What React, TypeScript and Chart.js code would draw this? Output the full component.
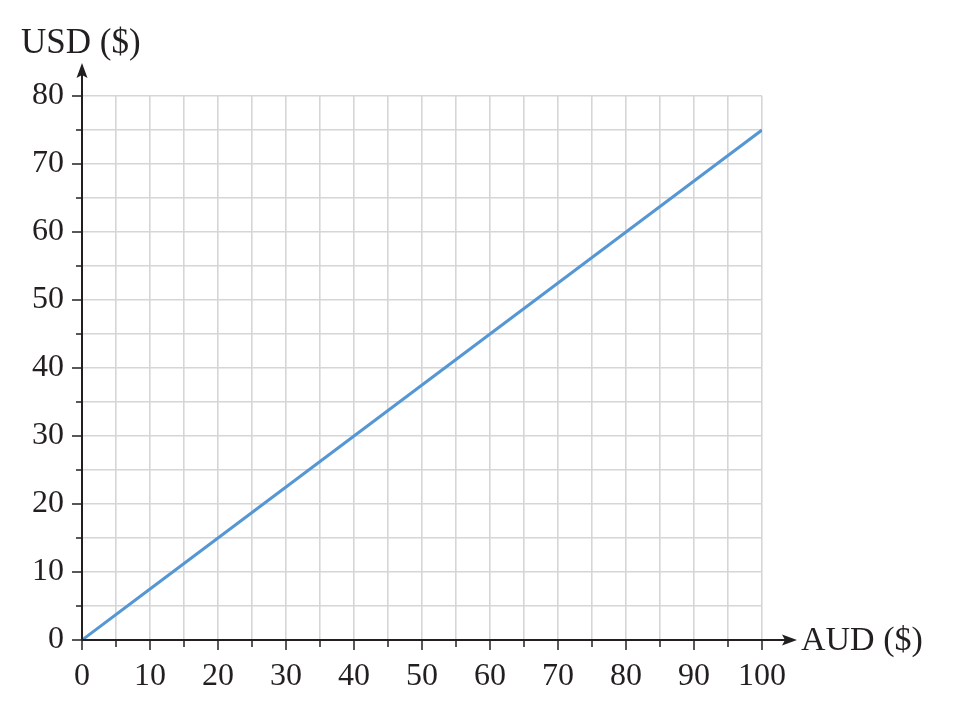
import React, { useEffect, useRef } from "react";
import { Chart, registerables } from "chart.js";

Chart.register(...registerables);

const audValues = [0, 10, 20, 30, 40, 50, 60, 70, 80, 90, 100];
const usdValues = [0, 7.5, 15, 22.5, 30, 37.5, 45, 52.5, 60, 67.5, 75];
const xTitle = "AUD ($)";
const yTitle = "USD ($)";
const xRange = [0, 100];
const yRange = [0, 80];
const gridStep = 5;
const labelStep = 10;

const INK = "#231f20";
const FONT = "'Liberation Serif', 'DejaVu Serif', serif";

const axesPlugin = {
  id: "axesArrows",
  afterDraw(chart: any) {
    const { ctx } = chart;
    const xs = chart.scales.x;
    const ys = chart.scales.y;
    const x0 = xs.getPixelForValue(xRange[0]);
    const x1 = xs.getPixelForValue(xRange[1]);
    const y0 = ys.getPixelForValue(yRange[0]);
    const y1 = ys.getPixelForValue(yRange[1]);
    ctx.save();
    ctx.strokeStyle = INK;
    ctx.fillStyle = INK;
    // ticks
    ctx.lineWidth = 1.5;
    for (const t of xs.ticks) {
      const px = xs.getPixelForValue(t.value);
      const len = t.value % labelStep === 0 ? 10 : 7;
      ctx.beginPath();
      ctx.moveTo(px, y0);
      ctx.lineTo(px, y0 + len);
      ctx.stroke();
    }
    for (const t of ys.ticks) {
      const py = ys.getPixelForValue(t.value);
      const len = t.value % labelStep === 0 ? 10 : 6;
      ctx.beginPath();
      ctx.moveTo(x0, py);
      ctx.lineTo(x0 - len, py);
      ctx.stroke();
    }
    // axis lines
    ctx.lineWidth = 2;
    ctx.beginPath();
    ctx.moveTo(x0, y0);
    ctx.lineTo(x1 + 24, y0);
    ctx.stroke();
    ctx.beginPath();
    ctx.moveTo(x0, y0);
    ctx.lineTo(x0, y1 - 22);
    ctx.stroke();
    // arrowheads
    const xt = x1 + 35;
    ctx.beginPath();
    ctx.moveTo(xt, y0);
    ctx.lineTo(xt - 15, y0 - 5.5);
    ctx.lineTo(xt - 12, y0);
    ctx.lineTo(xt - 15, y0 + 5.5);
    ctx.closePath();
    ctx.fill();
    const yt = y1 - 33;
    ctx.beginPath();
    ctx.moveTo(x0, yt);
    ctx.lineTo(x0 - 5.5, yt + 15);
    ctx.lineTo(x0, yt + 12);
    ctx.lineTo(x0 + 5.5, yt + 15);
    ctx.closePath();
    ctx.fill();
    // titles
    ctx.textBaseline = "alphabetic";
    ctx.textAlign = "left";
    ctx.font = `34px ${FONT}`;
    ctx.fillText(xTitle, xt + 4, y0 + 10);
    ctx.font = `35px ${FONT}`;
    ctx.fillText(yTitle, 21, y1 - 43);
    ctx.restore();
  },
};

export default function App() {
  const ref = useRef<HTMLCanvasElement | null>(null);
  useEffect(() => {
    document.body.style.margin = "0";
    const canvas = ref.current;
    if (!canvas) return;
    const chart = new Chart(canvas, {
      type: "line",
      data: {
        datasets: [
          {
            data: audValues.map((x, i) => ({ x, y: usdValues[i] })),
            borderColor: "#5597d3",
            borderWidth: 3,
            pointRadius: 0,
            fill: false,
            tension: 0,
          },
        ],
      },
      options: {
        animation: false,
        responsive: false,
        maintainAspectRatio: false,
        events: [],
        layout: { padding: { top: 96, right: 200, left: 0, bottom: 0 } },
        plugins: { legend: { display: false }, tooltip: { enabled: false } },
        scales: {
          x: {
            type: "linear",
            min: xRange[0],
            max: xRange[1],
            afterFit: (s: any) => {
              s.height = 78;
            },
            grid: { color: "#d6d6d6", lineWidth: 1.6, drawTicks: false },
            border: { display: false },
            ticks: {
              stepSize: gridStep,
              autoSkip: false,
              maxRotation: 0,
              padding: 17,
              color: INK,
              font: { family: FONT, size: 32 },
              callback: (v: any) => (Number(v) % labelStep === 0 ? String(v) : ""),
            },
          },
          y: {
            type: "linear",
            min: yRange[0],
            max: yRange[1],
            afterFit: (s: any) => {
              s.width = 82;
            },
            grid: { color: "#d6d6d6", lineWidth: 1.6, drawTicks: false },
            border: { display: false },
            ticks: {
              stepSize: gridStep,
              autoSkip: false,
              padding: 18,
              color: INK,
              font: { family: FONT, size: 32 },
              callback: (v: any) => (Number(v) % labelStep === 0 ? String(v) : ""),
            },
          },
        },
      },
      plugins: [axesPlugin],
    });
    return () => chart.destroy();
  }, []);
  return (
    <div style={{ width: 962, height: 718, background: "#fff" }}>
      <canvas ref={ref} width={962} height={718} style={{ display: "block" }} />
    </div>
  );
}
